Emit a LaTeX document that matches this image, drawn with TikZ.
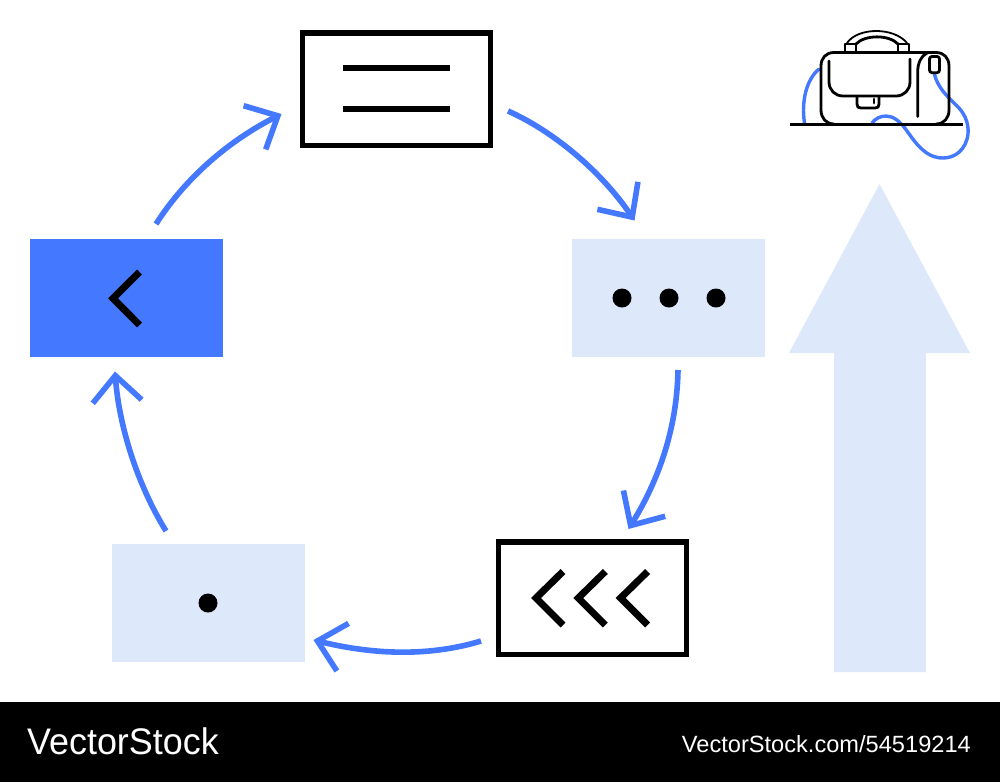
\documentclass[tikz,border=0pt]{standalone}
\usepackage{fontspec}
\setmainfont{Liberation Sans}
\usetikzlibrary{arrows.meta}
\definecolor{vsblue}{HTML}{4378FF}
\definecolor{vspale}{HTML}{DEE8FB}
\tikzset{
  x=1pt,y=-1pt,
  flow/.style={draw=vsblue,line width=5.6pt,-{Straight Barb[length=26pt,width=49pt,line width=5.6pt,sharp]}},
  paleBox/.style={fill=vspale,draw=none,minimum width=193pt,minimum height=118pt,inner sep=0pt},
  blueBox/.style={fill=vsblue,draw=none,minimum width=193pt,minimum height=118pt,inner sep=0pt},
  lineBox/.style={draw=black,line width=5.5pt,fill=white,minimum width=188pt,minimum height=112.5pt,inner sep=0pt},
  glyph/.style={draw=black,line width=7pt,fill=none,line cap=butt,miter limit=10},
  dotmark/.style={circle,fill=black,minimum size=19pt,inner sep=0pt},
  bagline/.style={draw=black,line width=2.8pt,fill=none,line cap=round,line join=round},
  strap/.style={draw=vsblue,line width=3.4pt,fill=none,line cap=round},
}
\begin{document}
\begin{tikzpicture}
\useasboundingbox (0,0) rectangle (1000,782);
\fill[white] (0,0) rectangle (1000,782);
\fill[black] (0,702) rectangle (1000,782);
% boxes
\node[lineBox] (top) at (396.5,89) {};
\node[paleBox] (right) at (668.5,298) {};
\node[lineBox] (bot) at (592.5,598) {};
\node[paleBox] (low) at (208.5,603) {};
\node[blueBox] (left) at (126.5,298) {};
% glyphs
\draw[glyph,line width=5.5pt] (343,68) -- (450,68) (343,109) -- (450,109);
\node[dotmark] (d1) at (622,298) {};
\node[dotmark] (d2) at (669,298) {};
\node[dotmark] (d3) at (716,298) {};
\node[dotmark] (d4) at (208,603) {};
\draw[glyph] (139.5,272) -- (113,298.3) -- (139.5,325);
\draw[glyph] (563,571.5) -- (536,598) -- (563,625);
\draw[glyph] (605.3,571.5) -- (578.3,598) -- (605.3,625);
\draw[glyph] (647.6,571.5) -- (620.6,598) -- (647.6,625);
% connector ends
\coordinate (a1) at (156,224); \coordinate (b1) at (281.5,114);
\coordinate (a2) at (508,111); \coordinate (b2) at (634.5,220.5);
\coordinate (a3) at (678,370); \coordinate (b3) at (628.5,529);
\coordinate (a4) at (481,641); \coordinate (b4) at (313.5,640);
\coordinate (a5) at (166,531); \coordinate (b5) at (115,371.5);
\draw[flow] (a1) .. controls (186,177) and (230,140) .. (b1);
\draw[flow] (a2) .. controls (553,131) and (601,171) .. (b2);
\draw[flow] (a3) .. controls (677,429) and (658.5,480.4) .. (b3);
\draw[flow] (a4) .. controls (425,658) and (368,653.4) .. (b4);
\draw[flow] (a5) .. controls (137,484) and (119,425.5) .. (b5);
% big arrow
\fill[vspale] (879.5,184) -- (970,353) -- (926,353) -- (926,672) -- (834,672) -- (834,353) -- (789,353) -- cycle;
% bag
\draw[strap] (819,69) .. controls (807,79) and (801,100) .. (804.5,123);
\draw[strap] (934.3,74) .. controls (938,88) and (947,96) .. (955,104) .. controls (964,112) and (969,122) .. (968,134) .. controls (966,150) and (955,158) .. (943,158) .. controls (925,158) and (915,142) .. (907,131) .. controls (900,121) and (893,116) .. (886,116) .. controls (880,116) and (875,119) .. (872,123);
\draw[bagline,line cap=butt] (789.5,124.3) -- (962.7,124.3);
\draw[bagline] (834,124) .. controls (826,124) and (821,118) .. (821,110) -- (821,66) .. controls (821,58) and (826,52.5) .. (834,52.5) -- (936,52.5) .. controls (944,52.5) and (949,58) .. (949,66) -- (949,110) .. controls (949,118) and (944,124) .. (936,124);
\draw[bagline] (829,61) -- (829,82) .. controls (829,90) and (835,96) .. (843,96) -- (896,96) .. controls (904,96) and (910,90) .. (910,82) -- (910,59);
\draw[bagline] (857,97) -- (857,104) .. controls (857,107) and (858,108) .. (861,108) -- (875,108) .. controls (878,108) and (879,107) .. (879,104) -- (879,97);
\draw[bagline] (874,99) -- (874,103);
\draw[bagline] (917.7,116.5) -- (917.7,72) .. controls (917.7,63) and (921,56) .. (927,53);
\draw[bagline] (929.5,59) .. controls (929.5,57.5) and (930.5,56.5) .. (932,56.5) -- (937,56.5) .. controls (938.5,56.5) and (939.5,57.5) .. (939.5,59) -- (939.5,70) .. controls (939.5,71.5) and (938.5,72.7) .. (937,72.7) -- (932,72.7) .. controls (930.5,72.7) and (929.5,71.5) .. (929.5,70) -- cycle;
\draw[bagline] (845,52) -- (845,44) -- (856,44) -- (856,52);
\draw[bagline] (898,52) -- (898,44) -- (909,44) -- (909,52);
\draw[bagline] (856,44) .. controls (865,34.5) and (889,34.5) .. (898,44);
\draw[bagline,line width=1.8pt] (847,43) .. controls (858,27) and (894,27) .. (907,43);
% footer
\node[text=white,anchor=base west,inner sep=0pt,font=\fontsize{37}{37}\selectfont,xscale=0.97] (brand) at (27,754) {VectorStock};
\node[text=white,anchor=base east,inner sep=0pt,font=\fontsize{23.5}{23.5}\selectfont,xscale=1.005] (url) at (971,752) {VectorStock.com/54519214};
\end{tikzpicture}
\end{document}
